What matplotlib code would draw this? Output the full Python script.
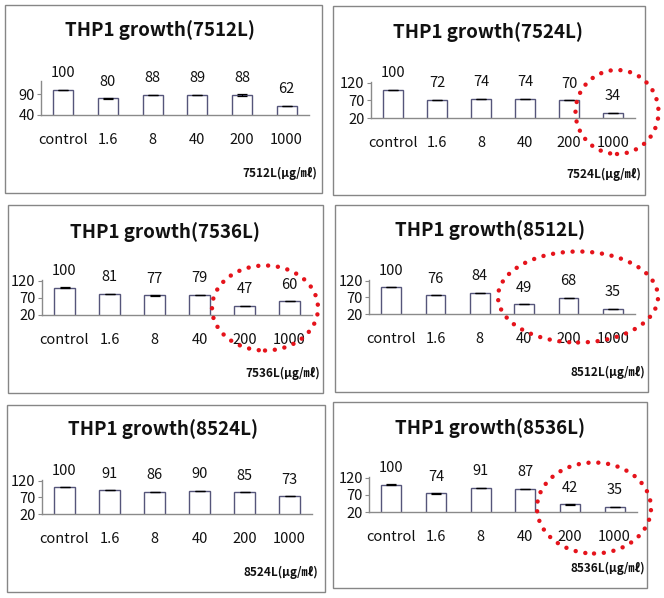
import matplotlib
matplotlib.use("Agg")
import matplotlib.pyplot as plt
from matplotlib.patches import Rectangle, Ellipse

W, H = 664, 598
categories = ['control', '1.6', '8', '40', '200', '1000']

names = ['7512L', '7524L', '7536L', '8512L', '8524L', '8536L']
values_7512L = [100, 80, 88, 89, 88, 62]
values_7524L = [100, 72, 74, 74, 70, 34]
values_7536L = [100, 81, 77, 79, 47, 60]
values_8512L = [100, 76, 84, 49, 68, 35]
values_8524L = [100, 91, 86, 90, 85, 73]
values_8536L = [100, 74, 91, 87, 42, 35]
errors_7512L = [0.3, 0.3, 0.3, 0.3, 1.5, 0.3]
errors_other = [0.3, 0.3, 0.3, 0.3, 0.3, 0.3]

series = [values_7512L, values_7524L, values_7536L, values_8512L, values_8524L, values_8536L]
errors = [errors_7512L] + [errors_other] * 5
yticks_7512L = [40, 90]
yticks_other = [20, 70, 120]

# layout in pixels: border box, axes box (x0, x1, ytop, ybase), title centre, unit label (right, y)
layout = [
    dict(box=(5, 5, 322, 193), ax=(41, 309, 81, 115), title=(160, 30), unit=(317, 173)),
    dict(box=(333, 6, 645, 195), ax=(371, 635, 82, 118), title=(488, 32), unit=(641, 174)),
    dict(box=(8, 205, 323, 393), ax=(42, 312, 280, 315), title=(165, 232), unit=(320, 373)),
    dict(box=(335, 205, 648, 392), ax=(369, 635, 280, 314), title=(490, 230), unit=(645, 372)),
    dict(box=(7, 405, 325, 592), ax=(42, 312, 480, 514), title=(163, 429), unit=(318, 572)),
    dict(box=(333, 402, 647, 588), ax=(369, 637, 477, 512), title=(490, 428), unit=(645, 568)),
]
ellipses = [None, (617, 112, 83, 84), (265, 308, 106, 85), (578, 297, 160, 91), None, (594, 508, 114, 91)]

FONT = ['Noto Sans CJK KR', 'DejaVu Sans']
plt.rcParams['font.family'] = FONT

fig = plt.figure(figsize=(W / 100, H / 100), dpi=100)
fig.patch.set_facecolor('white')

def fx(x):
    return x / W

def fy(y):
    return 1 - y / H

for i, (name, vals, errs, lay) in enumerate(zip(names, series, errors, layout)):
    bx0, by0, bx1, by1 = lay['box']
    fig.patches.append(Rectangle((fx(bx0), fy(by1)), (bx1 - bx0) / W, (by1 - by0) / H,
                                 transform=fig.transFigure, fill=False, edgecolor='#868686', lw=1.0))
    x0, x1, yt, yb = lay['ax']
    ax = fig.add_axes([fx(x0), fy(yb), (x1 - x0) / W, (yb - yt) / H])
    if i == 0:
        ticks = yticks_7512L
        ylim = (40, 122)
    else:
        ticks = yticks_other
        ylim = (20, 122)
    xs = list(range(len(categories)))
    ax.bar(xs, vals, width=0.45, bottom=0, color='white', edgecolor='#55557a', linewidth=1.0, zorder=2)
    ax.errorbar(xs, vals, yerr=errs, fmt='none', ecolor='black', elinewidth=0.8,
                capsize=3.6, capthick=0.9, zorder=3)
    for x, v in zip(xs, vals):
        ax.annotate(str(v), (x, v), xytext=(0, 7), textcoords='offset points',
                    ha='center', va='bottom', fontsize=10.5, color='#111111')
    ax.set_xlim(-0.5, len(categories) - 0.5)
    ax.set_ylim(*ylim)
    ax.set_yticks(ticks)
    ax.set_xticks(xs)
    ax.set_xticklabels(categories)
    ax.tick_params(axis='x', length=0, pad=13, labelsize=10.5, colors='#111111')
    ax.tick_params(axis='y', length=3, width=0.8, color='#8a8a8a', pad=1.5, labelsize=10.5, labelcolor='#111111')
    for s in ['top', 'right']:
        ax.spines[s].set_visible(False)
    for s in ['left', 'bottom']:
        ax.spines[s].set_color('#8a8a8a')
        ax.spines[s].set_linewidth(1.0)
    ax.patch.set_alpha(0)
    tx, ty = lay['title']
    fig.text(fx(tx), fy(ty), 'THP1 growth(' + name + ')', ha='center', va='center',
             fontsize=13.5, fontweight='bold', color='#111111')
    ux, uy = lay['unit']
    fig.text(fx(ux), fy(uy), name + '(μg/㎖)', ha='right', va='center',
             fontsize=8.5, fontweight='bold', color='#111111')
    el = ellipses[i]
    if el is not None:
        cx, cy, ew, eh = el
        fig.patches.append(Ellipse((fx(cx), fy(cy)), ew / W, eh / H, transform=fig.transFigure,
                                   fill=False, edgecolor='#e5131b', linewidth=3.2,
                                   linestyle=(0, (0.01, 2.2)), capstyle='round', zorder=10))

fig.savefig('out.png', dpi=100, facecolor='white')
